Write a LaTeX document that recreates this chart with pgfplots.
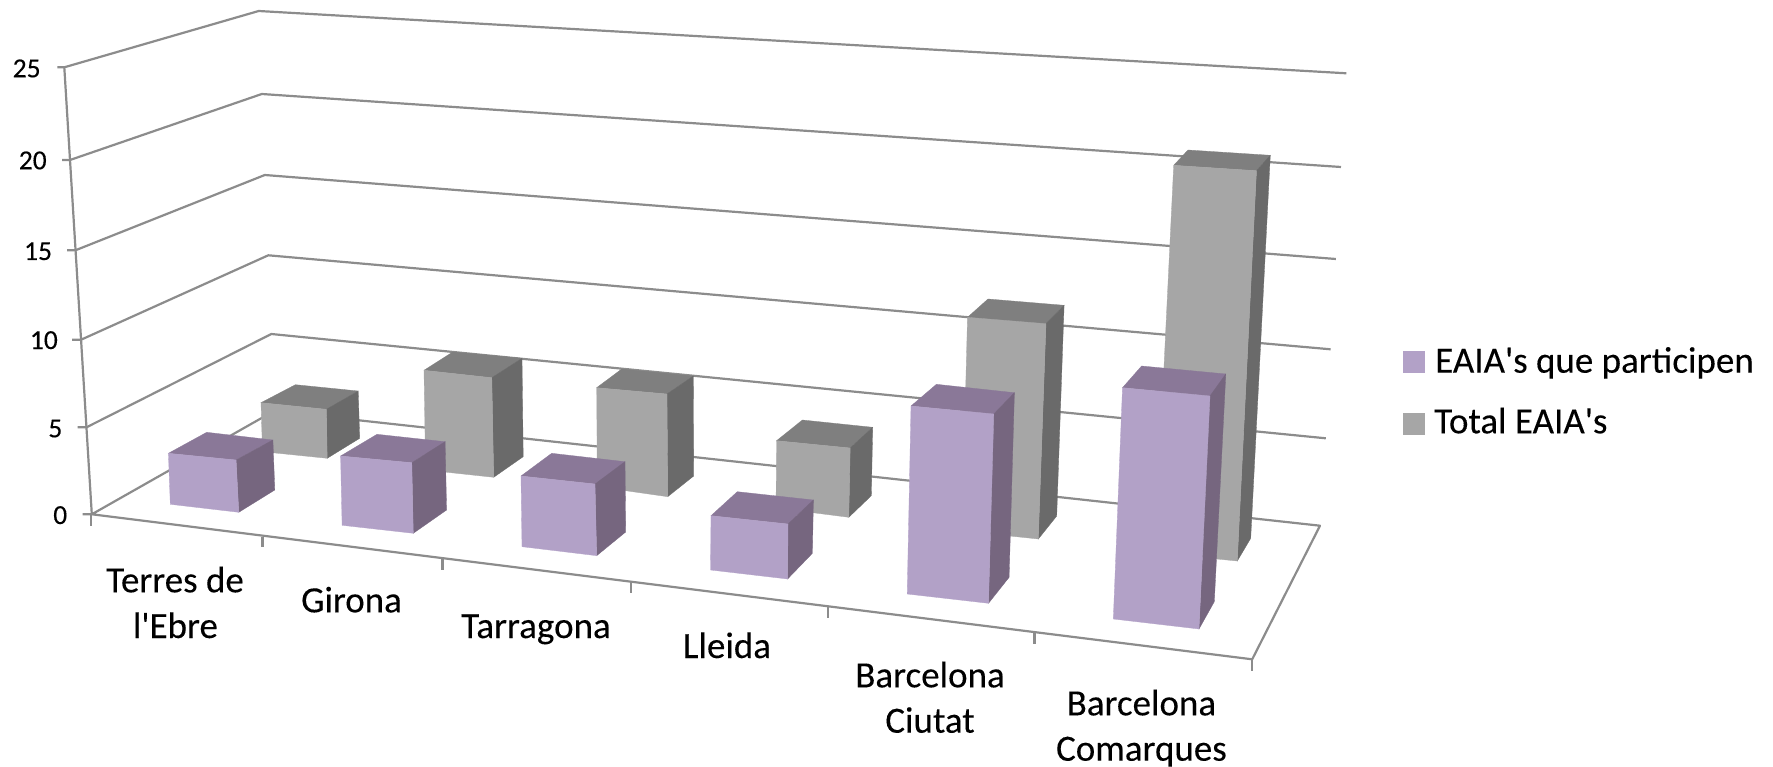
\documentclass[border=0pt]{standalone}
\usepackage{fontspec}
% newfontfamily keeps the straight apostrophe
\newfontfamily\carlito[FakeBold=0.2]{Carlito}
\usepackage{pgfplots}
\pgfplotsset{compat=1.18}

\definecolor{pfront}{HTML}{B2A1C7}
\definecolor{ptop}{HTML}{8A7898}
\definecolor{pside}{HTML}{76667F}
\definecolor{gfront}{HTML}{A6A6A6}
\definecolor{gtop}{HTML}{7F7F7F}
\definecolor{gside}{HTML}{6A6A6A}
\definecolor{gridc}{HTML}{8C8C8C}

% one 3D box: colours prefix, then front, top and side faces
\newcommand{\bbox}[4]{%
  \addplot[fill=#1top,draw=#1top,line width=0.3pt,forget plot] coordinates {#3} -- cycle;
  \addplot[fill=#1side,draw=#1side,line width=0.3pt,forget plot] coordinates {#4} -- cycle;
  \addplot[fill=#1front,draw=#1front,line width=0.3pt,forget plot] coordinates {#2} -- cycle;
}
\newcommand{\gline}[1]{\addplot[draw=gridc,line width=2.2pt,line join=round,forget plot] coordinates {#1};}

\begin{document}
\carlito
\begin{tikzpicture}
\useasboundingbox (0,0) rectangle (1773pt,767pt);
\begin{axis}[
    at={(0,0)}, anchor=south west,
    scale only axis, width=1773pt, height=767pt,
    xmin=0, xmax=1773, ymin=0, ymax=767,
    y dir=reverse,
    hide axis, clip=false,
  ]
  % walls and gridlines, picture coordinates
  \gline{(57.4,67.3) (64.3,67.3) (258.7,11) (1346.4,73.3)}
  \gline{(62,160) (70,160) (261.8,94) (1341,167)}
  \gline{(67,250.3) (75.4,250.3) (264.8,175) (1335.9,259)}
  \gline{(72,339.7) (81.1,339.7) (268.3,255.3) (1330.6,349.3)}
  \gline{(77.7,427.3) (86.5,427.3) (271.3,334) (1325.8,438.3)}
  \gline{(82.7,514.3) (91.8,514.3) (274,411) (1320,525.7) (1252.2,659.3) (91.8,514.3)}
  \gline{(64.3,67.3) (91.8,514.3)}
  % category ticks
  \gline{(90.7,514.3) (90.7,526)}
  \gline{(262.5,536.7) (262.5,546.7)}
  \gline{(442.4,559.3) (442.4,570)}
  \gline{(631,582) (631,593)}
  \gline{(827.8,607) (827.8,618)}
  \gline{(1034.4,632.3) (1034.4,643.7)}
  \gline{(1252.2,659.3) (1252.2,670.7)}

  % Total EAIA's, back row
  \bbox{g}{(261,402.7) (326.4,409.3) (327.2,458.3) (262.5,451.7)}
          {(261,402.7) (295.4,384.7) (358.2,391) (326.4,409.3)}
          {(326.4,409.3) (358.2,391) (359.7,438.3) (327.2,458.3)}
  \bbox{g}{(424,370.3) (491.8,377.7) (493.7,477.3) (425.6,470)}
          {(424,370.3) (452.7,352) (522,358.3) (491.8,377.7)}
          {(491.8,377.7) (522,358.3) (523.2,456.7) (493.7,477.3)}
  \bbox{g}{(596.7,387.7) (667,394) (667.7,496.7) (597.3,486.7)}
          {(596.7,387.7) (621.7,369) (693.3,376) (667,394)}
          {(667,394) (693.3,376) (693.7,476) (667.7,496.7)}
  \bbox{g}{(776.6,440.7) (850.2,448) (848.8,517.3) (776,508)}
          {(776.6,440.7) (802.4,420) (872.7,427.3) (850.2,448)}
          {(850.2,448) (872.7,427.3) (871.3,495.7) (848.8,517.3)}
  \bbox{g}{(967.5,317.3) (1046,323.7) (1038.3,539) (962,531)}
          {(967.5,317.3) (988,299) (1064.1,305.3) (1046,323.7)}
          {(1046,323.7) (1064.1,305.3) (1056.7,516) (1038.3,539)}
  \bbox{g}{(1173.7,165.3) (1256.5,170.7) (1237.3,561) (1155,553)}
          {(1173.7,165.3) (1188,150) (1270.3,155.3) (1256.5,170.7)}
          {(1256.5,170.7) (1270.3,155.3) (1250.7,538.3) (1237.3,561)}

  % EAIA's que participen, front row
  \bbox{p}{(168.4,453.3) (236.1,460) (238.8,512.3) (170.3,504.3)}
          {(168.4,453.3) (206.7,432.3) (272.9,440) (236.1,460)}
          {(236.1,460) (272.9,440) (274.8,490) (238.8,512.3)}
  \bbox{p}{(340.6,456) (411.8,462.7) (413.3,533.3) (342.1,525.3)}
          {(340.6,456) (377,434.3) (445.1,441.7) (411.8,462.7)}
          {(411.8,462.7) (445.1,441.7) (446.6,510) (413.3,533.3)}
  \bbox{p}{(521,476) (595,484) (596.7,555.7) (522,546.7)}
          {(521,476) (551.7,453.3) (625,461.7) (595,484)}
          {(595,484) (625,461.7) (625.7,532) (596.7,555.7)}
  \bbox{p}{(711,515.7) (788,524) (787.6,579) (710.5,570)}
          {(711,515.7) (737.3,491.7) (813.4,500) (788,524)}
          {(788,524) (813.4,500) (812.4,553.3) (787.6,579)}
  \bbox{p}{(911,406) (993.8,414) (988.5,603.3) (907.2,594)}
          {(911,406) (936.4,384.3) (1014.4,392.7) (993.8,414)}
          {(993.8,414) (1014.4,392.7) (1009.1,577.3) (988.5,603.3)}
  \bbox{p}{(1122.5,387.7) (1210,396) (1199,629) (1113.3,619)}
          {(1122.5,387.7) (1141.6,366) (1225.8,374) (1210,396)}
          {(1210,396) (1225.8,374) (1214.3,601.7) (1199,629)}

  % legend
  \addplot[only marks,mark=square*,mark size=10.5pt,mark options={draw=pfront,fill=pfront,line width=0pt}] coordinates {(1413.5,362.2)};
  \addplot[only marks,mark=square*,mark size=10.5pt,mark options={draw=gfront,fill=gfront,line width=0pt}] coordinates {(1413.5,423.5)};
  \node[anchor=base west,inner sep=0pt,font=\fontsize{37}{37}\selectfont] at (axis cs:1435,372.7) {EAIA's que participen};
  \node[anchor=base west,inner sep=0pt,font=\fontsize{37}{37}\selectfont] at (axis cs:1434,433.3) {Total EAIA's};

  % value labels
  \node[anchor=base east,inner sep=0pt,font=\fontsize{27.5}{27.5}\selectfont] at (axis cs:40.8,77.3) {25};
  \node[anchor=base east,inner sep=0pt,font=\fontsize{27.5}{27.5}\selectfont] at (axis cs:46.9,169.3) {20};
  \node[anchor=base east,inner sep=0pt,font=\fontsize{27.5}{27.5}\selectfont] at (axis cs:52.2,260) {15};
  \node[anchor=base east,inner sep=0pt,font=\fontsize{27.5}{27.5}\selectfont] at (axis cs:58,349) {10};
  \node[anchor=base east,inner sep=0pt,font=\fontsize{27.5}{27.5}\selectfont] at (axis cs:62.5,437.3) {5};
  \node[anchor=base east,inner sep=0pt,font=\fontsize{27.5}{27.5}\selectfont] at (axis cs:67.4,524) {0};

  % category labels
  \node[anchor=base,inner sep=0pt,font=\fontsize{37}{37}\selectfont] at (axis cs:175,592.3) {Terres de};
  \node[anchor=base,inner sep=0pt,font=\fontsize{37}{37}\selectfont] at (axis cs:175.4,638) {l'Ebre};
  \node[anchor=base,inner sep=0pt,font=\fontsize{37}{37}\selectfont] at (axis cs:351.5,612.3) {Girona};
  \node[anchor=base,inner sep=0pt,font=\fontsize{37}{37}\selectfont] at (axis cs:536,638) {Tarragona};
  \node[anchor=base,inner sep=0pt,font=\fontsize{37}{37}\selectfont] at (axis cs:727,658) {Lleida};
  \node[anchor=base,inner sep=0pt,font=\fontsize{37}{37}\selectfont] at (axis cs:930,687.3) {Barcelona};
  \node[anchor=base,inner sep=0pt,font=\fontsize{37}{37}\selectfont] at (axis cs:930,732.7) {Ciutat};
  \node[anchor=base,inner sep=0pt,font=\fontsize{37}{37}\selectfont] at (axis cs:1141.4,715.3) {Barcelona};
  \node[anchor=base,inner sep=0pt,font=\fontsize{37}{37}\selectfont] at (axis cs:1141.4,760.7) {Comarques};
\end{axis}
\end{tikzpicture}
\end{document}
